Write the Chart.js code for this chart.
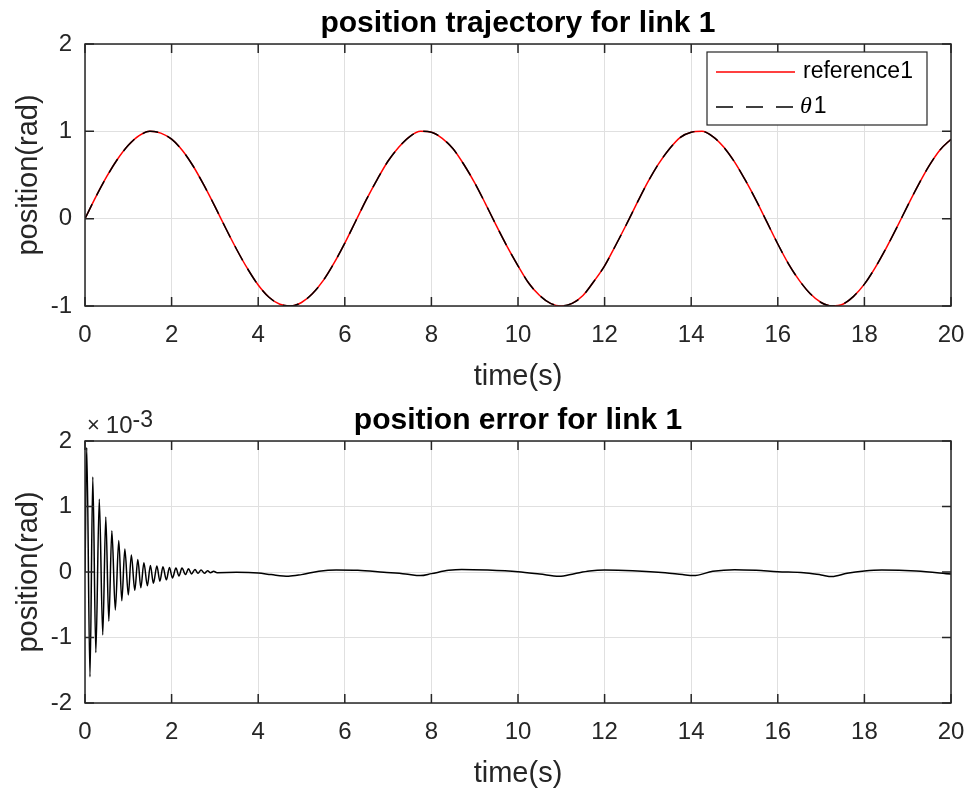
<!DOCTYPE html>
<html>
<head>
<meta charset="utf-8">
<script src="https://cdn.jsdelivr.net/npm/chart.js@4.4.1/dist/chart.umd.min.js"></script>
<style>
  html, body { margin: 0; padding: 0; background: #fff; }
  #wrap { position: relative; width: 969px; height: 793px; }
  .box { position: absolute; left: 0; width: 969px; height: 396px; }
</style>
</head>
<body>
<div id="wrap">
  <div class="box" style="top:0"><canvas id="trajChart"></canvas></div>
  <div class="box" style="top:397px"><canvas id="errChart"></canvas></div>
</div>
<script>
// time base of the trajectory plot (s)
const timeRef = [
  0, 0.25, 0.5, 0.75, 1, 1.25, 1.5, 1.75, 2, 2.25,
  2.5, 2.75, 3, 3.25, 3.5, 3.75, 4, 4.25, 4.5, 4.75,
  5, 5.25, 5.5, 5.75, 6, 6.25, 6.5, 6.75, 7, 7.25,
  7.5, 7.75, 8, 8.25, 8.5, 8.75, 9, 9.25, 9.5, 9.75,
  10, 10.25, 10.5, 10.75, 11, 11.25, 11.5, 11.75, 12, 12.25,
  12.5, 12.75, 13, 13.25, 13.5, 13.75, 14, 14.25, 14.5, 14.75,
  15, 15.25, 15.5, 15.75, 16, 16.25, 16.5, 16.75, 17, 17.25,
  17.5, 17.75, 18, 18.25, 18.5, 18.75, 19, 19.25, 19.5, 19.75, 20
];
// desired joint angle (rad)
const reference1 = [
  0.00, 0.25, 0.48, 0.68, 0.84, 0.95, 1.00, 0.98, 0.91, 0.78,
  0.60, 0.38, 0.14, -0.11, -0.35, -0.57, -0.76, -0.90, -0.98, -1.00,
  -0.96, -0.86, -0.71, -0.51, -0.28, -0.03, 0.22, 0.45, 0.66, 0.82,
  0.94, 1.00, 0.99, 0.92, 0.80, 0.62, 0.41, 0.17, -0.08, -0.32,
  -0.54, -0.74, -0.88, -0.97, -1.00, -0.97, -0.88, -0.72, -0.54, -0.31,
  -0.07, 0.18, 0.42, 0.63, 0.80, 0.93, 0.99, 1.00, 0.94, 0.82,
  0.65, 0.44, 0.21, -0.04, -0.29, -0.52, -0.71, -0.86, -0.96, -1.00,
  -0.98, -0.89, -0.75, -0.56, -0.34, -0.10, 0.15, 0.39, 0.61, 0.79, 0.91
];
// measured joint angle (rad)
const theta1 = [
  0.00, 0.25, 0.48, 0.68, 0.84, 0.95, 1.00, 0.98, 0.91, 0.78,
  0.60, 0.38, 0.14, -0.11, -0.35, -0.57, -0.76, -0.90, -0.98, -1.00,
  -0.96, -0.86, -0.71, -0.51, -0.28, -0.03, 0.22, 0.45, 0.66, 0.82,
  0.94, 1.00, 0.99, 0.92, 0.80, 0.62, 0.41, 0.17, -0.08, -0.32,
  -0.54, -0.74, -0.88, -0.97, -1.00, -0.97, -0.88, -0.72, -0.54, -0.31,
  -0.07, 0.18, 0.42, 0.63, 0.80, 0.93, 0.99, 1.00, 0.94, 0.82,
  0.65, 0.44, 0.21, -0.04, -0.29, -0.52, -0.71, -0.86, -0.96, -1.00,
  -0.98, -0.89, -0.75, -0.56, -0.34, -0.10, 0.15, 0.39, 0.61, 0.79, 0.91
];

// tracking error, sampled at the turning points (s, x1e-3 rad)
const errTime = [
  0, 0.04, 0.115, 0.18, 0.25, 0.33, 0.41, 0.48, 0.55, 0.62,
  0.70, 0.78, 0.85, 0.92, 1.00, 1.07, 1.15, 1.22, 1.29, 1.36,
  1.44, 1.51, 1.58, 1.66, 1.73, 1.80, 1.88, 1.95, 2.02, 2.10,
  2.17, 2.24, 2.32, 2.39, 2.46, 2.54, 2.61, 2.68, 2.76, 2.83,
  2.90, 2.97, 3.05, 3.5, 4.0, 4.3, 4.7, 5.0, 5.4, 5.8,
  6.3, 6.9, 7.4, 7.75, 8.0, 8.4, 8.7, 9.3, 10.0, 10.5,
  10.95, 11.3, 11.65, 12.0, 12.65, 13.4, 13.8, 14.05, 14.5, 15.0,
  15.5, 16.0, 16.6, 17.0, 17.25, 17.6, 18.0, 18.4, 19.2, 20.0
];
const errValue = [
  0, 1.90, -1.60, 1.45, -1.23, 1.11, -0.96, 0.84, -0.75, 0.63,
  -0.58, 0.48, -0.44, 0.35, -0.35, 0.26, -0.28, 0.19, -0.24, 0.14,
  -0.21, 0.10, -0.17, 0.09, -0.14, 0.08, -0.12, 0.07, -0.09, 0.06,
  -0.06, 0.06, -0.04, 0.05, -0.03, 0.04, -0.02, 0.03, -0.02, 0.02,
  -0.01, 0.01, -0.01, -0.005, -0.015, -0.04, -0.065, -0.04, 0.01, 0.03,
  0.025, -0.005, -0.03, -0.055, -0.025, 0.025, 0.04, 0.03, 0.005, -0.03,
  -0.065, -0.025, 0.015, 0.03, 0.02, -0.01, -0.04, -0.055, 0.01, 0.035,
  0.025, 0.005, -0.01, -0.045, -0.07, -0.02, 0.015, 0.03, 0.015, -0.03
];

const timeTicks = [0, 2, 4, 6, 8, 10, 12, 14, 16, 18, 20];
const trajTicks = [-1, 0, 1, 2];
const errTicks = [-2, -1, 0, 1, 2];

const FONT = '"Liberation Sans", Arial, sans-serif';
const AXIS_GRAY = '#262626';
Chart.defaults.font.family = FONT;
Chart.defaults.color = AXIS_GRAY;

function points(xs, ys) {
  return xs.map((x, i) => ({ x: x, y: ys[i] }));
}

// bold title centred over the plot box
const plotTitle = {
  id: 'plotTitle',
  afterDraw(chart, args, opts) {
    const { ctx, chartArea: a } = chart;
    ctx.save();
    ctx.fillStyle = '#000';
    ctx.font = 'bold 30px ' + FONT;
    ctx.textAlign = 'center';
    ctx.textBaseline = 'alphabetic';
    ctx.fillText(opts.text, (a.left + a.right) / 2, a.top - 12);
    ctx.restore();
  }
};

// box around the axes with inward ticks on all four sides
const axesBox = {
  id: 'axesBox',
  afterDatasetsDraw(chart) {
    const { ctx, chartArea: a, scales: { x, y } } = chart;
    const tl = 9;
    ctx.save();
    ctx.strokeStyle = AXIS_GRAY;
    ctx.lineWidth = 1.5;
    ctx.beginPath();
    x.ticks.forEach(t => {
      const px = x.getPixelForValue(t.value);
      ctx.moveTo(px, a.bottom); ctx.lineTo(px, a.bottom - tl);
      ctx.moveTo(px, a.top); ctx.lineTo(px, a.top + tl);
    });
    y.ticks.forEach(t => {
      const py = y.getPixelForValue(t.value);
      ctx.moveTo(a.left, py); ctx.lineTo(a.left + tl, py);
      ctx.moveTo(a.right, py); ctx.lineTo(a.right - tl, py);
    });
    ctx.stroke();
    ctx.strokeRect(a.left, a.top, a.right - a.left, a.bottom - a.top);
    ctx.restore();
  }
};

// legend in a framed box at the upper right corner
const boxLegend = {
  id: 'boxLegend',
  afterDraw(chart) {
    const { ctx, chartArea: a } = chart;
    const w = 220, h = 73;
    const left = a.right - 244, top = a.top + 8;
    ctx.save();
    ctx.fillStyle = '#fff';
    ctx.fillRect(left, top, w, h);
    ctx.strokeStyle = AXIS_GRAY;
    ctx.lineWidth = 1.2;
    ctx.strokeRect(left, top, w, h);
    const entries = [...chart.data.datasets].sort((p, q) => p.legendRank - q.legendRank);
    entries.forEach((ds, i) => {
      const cy = top + 20 + i * 35;
      ctx.beginPath();
      ctx.strokeStyle = ds.borderColor;
      ctx.lineWidth = ds.borderWidth;
      ctx.setLineDash(ds.borderDash ? [17, 13] : []);
      ctx.moveTo(left + 9, cy);
      ctx.lineTo(left + 88, cy);
      ctx.stroke();
      ctx.setLineDash([]);
      ctx.fillStyle = '#000';
      ctx.textBaseline = 'middle';
      let tx = left + 96;
      let text = ds.label;
      if (text.startsWith('θ')) {
        ctx.font = 'italic 24px "Liberation Serif", serif';
        ctx.fillText('θ', tx - 3, cy);
        tx += ctx.measureText('θ').width - 1;
        text = text.slice(1);
      }
      ctx.font = '23px ' + FONT;
      ctx.fillText(text, tx, cy);
    });
    ctx.restore();
  }
};

// "x10^-3" exponent above the y axis
const exponentLabel = {
  id: 'exponentLabel',
  afterDraw(chart) {
    const { ctx, chartArea: a } = chart;
    ctx.save();
    ctx.fillStyle = AXIS_GRAY;
    ctx.textBaseline = 'alphabetic';
    ctx.font = '22px ' + FONT;
    let x = a.left + 2;
    ctx.fillText('×', x, a.top - 9);
    x += ctx.measureText('×').width + 6;
    ctx.font = '24px ' + FONT;
    ctx.fillText('10', x, a.top - 8);
    x += ctx.measureText('10').width;
    ctx.font = '23px ' + FONT;
    ctx.fillText('-3', x, a.top - 14);
    ctx.restore();
  }
};

function baseOptions(title, yMin, yMax, yTicks) {
  return {
    responsive: true,
    maintainAspectRatio: false,
    animation: false,
    layout: { padding: { left: 0, right: 18, top: 44, bottom: 0 } },
    plugins: {
      legend: { display: false },
      tooltip: { enabled: false },
      title: { display: false },
      plotTitle: { text: title }
    },
    scales: {
      x: {
        type: 'linear',
        min: 0,
        max: 20,
        afterBuildTicks: s => { s.ticks = timeTicks.map(v => ({ value: v })); },
        afterFit: s => { s.height = 90; s.paddingLeft = 0; s.paddingRight = 0; },
        ticks: { padding: 15, font: { size: 24 }, color: AXIS_GRAY },
        grid: { color: '#e0e0e0', drawTicks: false },
        border: { display: false },
        title: {
          display: true,
          text: 'time(s)',
          color: AXIS_GRAY,
          font: { size: 29 },
          padding: { top: 0, bottom: 2 }
        }
      },
      y: {
        min: yMin,
        max: yMax,
        afterBuildTicks: s => { s.ticks = yTicks.map(v => ({ value: v })); },
        afterFit: s => { s.width = 85; s.paddingTop = 0; s.paddingBottom = 0; },
        ticks: { padding: 13, font: { size: 24 }, color: AXIS_GRAY },
        grid: { color: '#e0e0e0', drawTicks: false },
        border: { display: false },
        title: {
          display: true,
          text: 'position(rad)',
          color: AXIS_GRAY,
          font: { size: 29 },
          padding: { top: 12, bottom: 0 }
        }
      }
    }
  };
}

new Chart(document.getElementById('trajChart'), {
  type: 'line',
  plugins: [axesBox, boxLegend, plotTitle],
  data: {
    datasets: [
      {
        label: 'reference1',
        legendRank: 0,
        data: points(timeRef, reference1),
        borderColor: '#ff0000',
        borderWidth: 1.5,
        pointRadius: 0,
        cubicInterpolationMode: 'monotone',
        order: 1
      },
      {
        label: 'θ1',
        legendRank: 1,
        data: points(timeRef, theta1),
        borderColor: '#000000',
        borderWidth: 1.5,
        borderDash: [16, 10],
        pointRadius: 0,
        cubicInterpolationMode: 'monotone',
        order: 0
      }
    ]
  },
  options: baseOptions('position trajectory for link 1', -1, 2, trajTicks)
});

new Chart(document.getElementById('errChart'), {
  type: 'line',
  plugins: [axesBox, exponentLabel, plotTitle],
  data: {
    datasets: [{
      label: 'error',
      data: points(errTime, errValue),
      borderColor: '#000000',
      borderWidth: 1.5,
      pointRadius: 0,
      cubicInterpolationMode: 'monotone'
    }]
  },
  options: baseOptions('position error for link 1', -2, 2, errTicks)
});
</script>
</body>
</html>
